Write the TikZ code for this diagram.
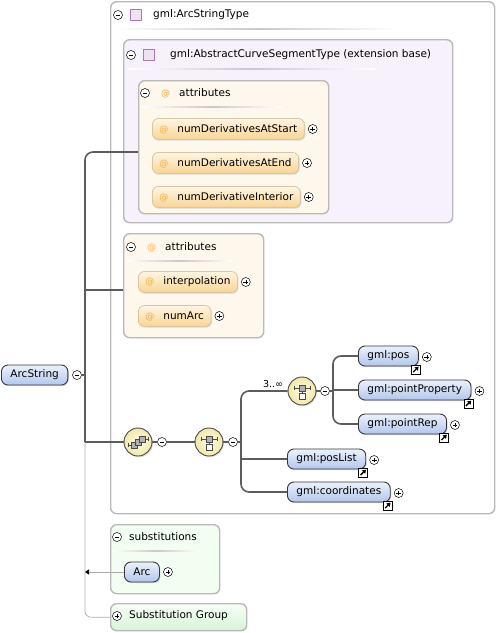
\documentclass[tikz,border=0pt]{standalone}
\usepackage{fontspec}
\setmainfont{DejaVu Sans}
\usetikzlibrary{arrows.meta,shadows}

\definecolor{boxGray}{HTML}{B9B9B9}
\definecolor{lavFill}{HTML}{F6F1FB}
\definecolor{creamFill}{HTML}{FEF8EC}
\definecolor{greenFill}{HTML}{F1FEF1}
\definecolor{greenTop}{HTML}{F7FFF7}
\definecolor{greenBot}{HTML}{D7F4D7}
\definecolor{elemTop}{HTML}{EAF1FC}
\definecolor{elemBot}{HTML}{B3C7EC}
\definecolor{elemLine}{HTML}{383838}
\definecolor{attrTop}{HTML}{FFF5E2}
\definecolor{attrBot}{HTML}{F8D493}
\definecolor{attrLine}{HTML}{D6C6A8}
\definecolor{atOrange}{HTML}{EFAE4A}
\definecolor{iconIn}{HTML}{FFFDE6}
\definecolor{iconOut}{HTML}{F1E8A8}
\definecolor{iconLine}{HTML}{4A4A4A}
\definecolor{tsqFill}{HTML}{EEE2F3}
\definecolor{tsqLine}{HTML}{A47BB4}
\definecolor{connGray}{HTML}{5C5C5C}
\definecolor{subLine}{HTML}{ABABAB}
\definecolor{hdrLine}{HTML}{C8C8C8}

\newcommand{\at}{{\color{atOrange}\fontsize{9}{9}\selectfont @}\hspace{9pt}}

\tikzset{
  grpbox/.style={draw=boxGray, line width=1.4pt, rounded corners=6pt, anchor=north west, inner sep=0pt},
  elem/.style={draw=elemLine, line width=0.9pt, rounded corners=6.5pt, top color=elemTop, bottom color=elemBot,
    minimum height=20pt, inner xsep=9pt, inner ysep=0pt, anchor=west,
    drop shadow={shadow xshift=1pt, shadow yshift=-1.2pt, opacity=0.3}},
  attr/.style={draw=attrLine, line width=0.8pt, rounded corners=6pt, top color=attrTop, bottom color=attrBot,
    minimum height=21pt, inner xsep=7pt, inner ysep=0pt, anchor=west,
    drop shadow={shadow xshift=1pt, shadow yshift=-1.2pt, opacity=0.25}},
  hdr/.style={anchor=west, inner sep=2pt},
  tsq/.style={draw=tsqLine, fill=tsqFill, line width=0.8pt, minimum size=11pt, inner sep=0pt},
  plusb/.style={circle, draw=black, fill=white, line width=0.5pt, minimum size=9pt, inner sep=0pt,
    path picture={\begin{scope}[shift={(path picture bounding box.center)}]
      \draw[line width=0.6pt] (-2.4pt,0pt) -- (2.4pt,0pt) (0pt,-2.4pt) -- (0pt,2.4pt);
    \end{scope}}},
  minusb/.style={circle, draw=black, fill=white, line width=0.5pt, minimum size=9pt, inner sep=0pt,
    path picture={\begin{scope}[shift={(path picture bounding box.center)}]
      \draw[line width=0.6pt] (-2.4pt,0pt) -- (2.4pt,0pt);
    \end{scope}}},
  linkmk/.style={draw=black, fill=white, line width=0.7pt, minimum size=9pt, inner sep=0pt,
    path picture={\begin{scope}[shift={(path picture bounding box.center)}]
      \draw[line width=1.3pt, -{Triangle[length=3.5pt,width=4.5pt]}] (-2.6pt,-2.6pt) -- (2.8pt,2.8pt);
    \end{scope}}},
  icon/.style={circle, draw=iconLine, line width=0.9pt, inner color=iconIn, outer color=iconOut,
    minimum size=28pt, inner sep=0pt, drop shadow={shadow xshift=1pt, shadow yshift=-1.2pt, opacity=0.25}},
  seqicon/.style={icon, path picture={\begin{scope}[shift={(path picture bounding box.center)}, line width=0.5pt]
      \draw[line width=0.8pt] (-10pt,-3pt) -- (-6pt,-3pt) (-10pt,-5pt) -- (-10pt,-1pt)
        (6pt,3pt) -- (10pt,3pt) (10pt,1pt) -- (10pt,5pt);
      \filldraw[fill=gray!60] (-7pt,-6pt) rectangle (-1pt,0pt);
      \filldraw[fill=gray!60] (-3pt,-3pt) rectangle (3pt,3pt);
      \filldraw[fill=gray!60] (1pt,0pt) rectangle (7pt,6pt);
    \end{scope}}},
  choiceicon/.style={icon, path picture={\begin{scope}[shift={(path picture bounding box.center)}, line width=0.5pt]
      \draw[line width=0.8pt] (-8pt,3pt) -- (8pt,3pt) (-8pt,1pt) -- (-8pt,5pt) (8pt,1pt) -- (8pt,5pt)
        (0pt,0pt) -- (0pt,-2pt);
      \filldraw[fill=gray!60] (-3pt,0pt) rectangle (3pt,6pt);
      \filldraw[fill=white] (-3pt,-8pt) rectangle (3pt,-2pt);
    \end{scope}}},
  conn/.style={draw=connGray, line width=1.6pt, rounded corners=8pt},
  sline/.style={draw=subLine, line width=0.7pt},
  uline/.style={left color=white, right color=white, middle color=hdrLine}
}

\begin{document}
\begin{tikzpicture}[x=1pt, y=-1pt, font=\fontsize{10.5}{12}\selectfont]
  \useasboundingbox (0,0) rectangle (496,633);

  % group boxes
  \node[grpbox, fill=white, minimum width=384pt, minimum height=512pt] (typeBox) at (110,1) {};
  \node[grpbox, fill=lavFill, minimum width=329pt, minimum height=183pt] (baseBox) at (123,39) {};
  \node[grpbox, fill=creamFill, minimum width=190pt, minimum height=133pt] (attA) at (138,80) {};
  \node[grpbox, fill=creamFill, minimum width=140pt, minimum height=104pt] (attB) at (123,233) {};
  \node[grpbox, fill=greenFill, minimum width=109pt, minimum height=69pt] (subs) at (110,524) {};
  \node[grpbox, top color=greenTop, bottom color=greenBot, minimum width=136pt, minimum height=27pt] (subG) at (110,603) {};

  % headers
  \node[minusb] (typeM) at (118,15) {};
  \node[tsq] (typeQ) at (136,15) {};
  \node[hdr] (typeH) at (151,15) {gml:ArcStringType};
  \shade[uline] (115,28) rectangle (400,29.5);
  \node[minusb] (baseM) at (131,55) {};
  \node[tsq] (baseQ) at (149,55) {};
  \node[hdr] (baseH) at (168,55) {gml:AbstractCurveSegmentType (extension base)};
  \shade[uline] (128,68) rectangle (375,69.5);
  \node[minusb] (attAM) at (145,93) {};
  \node[hdr] (attAH) at (159,93) {\at attributes};
  \shade[uline] (142,106) rectangle (282,107.5);
  \node[minusb] (attBM) at (131,247) {};
  \node[hdr] (attBH) at (145,247) {\at attributes};
  \shade[uline] (127,260) rectangle (232,261.5);
  \node[minusb] (subsM) at (117,537) {};
  \node[hdr] (subsH) at (127,537) {substitutions};
  \node[plusb] (subGP) at (117,616) {};
  \node[hdr] (subGH) at (127,616) {Substitution Group};
  \shade[uline] (113,550) rectangle (200,551.5);

  % attributes
  \node[attr] (atStart) at (152,129) {\at numDerivativesAtStart};
  \node[attr] (atEnd) at (152,163) {\at numDerivativesAtEnd};
  \node[attr] (atInt) at (152,197) {\at numDerivativeInterior};
  \node[attr] (interp) at (138,282) {\at interpolation};
  \node[attr] (numArc) at (138,316) {\at numArc};
  \node[plusb] (atStartP) at ([xshift=8pt]atStart.east) {};
  \node[plusb] (atEndP) at ([xshift=8pt]atEnd.east) {};
  \node[plusb] (atIntP) at ([xshift=8pt]atInt.east) {};
  \node[plusb] (interpP) at ([xshift=8pt]interp.east) {};
  \node[plusb] (numArcP) at ([xshift=8pt]numArc.east) {};

  % elements
  \node[elem] (arcString) at (1,375) {ArcString};
  \node[minusb] (arcStringM) at (77,375) {};
  \node[seqicon] (seq) at (138,442) {};
  \node[minusb] (seqM) at (162,442) {};
  \node[choiceicon] (chA) at (209,442) {};
  \node[minusb] (chAM) at (233,442) {};
  \node[choiceicon] (chB) at (302,391) {};
  \node[minusb] (chBM) at (325,391) {};
  \node[elem] (pos) at (358,356) {gml:pos};
  \node[elem] (pointProp) at (358,390) {gml:pointProperty};
  \node[elem] (pointRep) at (358,424) {gml:pointRep};
  \node[elem] (posList) at (287,459) {gml:posList};
  \node[elem] (coords) at (287,492) {gml:coordinates};
  \node[elem] (arc) at (124,572) {Arc};
  \node[plusb] (arcP) at ([xshift=8pt]arc.east) {};
  \foreach \e in {pos,pointProp,pointRep,posList,coords}{
    \node[linkmk] (\e L) at ([xshift=-3pt,yshift=-3pt]\e.south east) {};
    \node[plusb] (\e P) at ([xshift=8pt,yshift=-1pt]\e.east) {};
  }

  % connectors
  \coordinate (t1) at (85,152);
  \coordinate (t2) at (85,290);
  \coordinate (t3) at (85,442);
  \coordinate (c1) at (241,391);
  \coordinate (c2) at (241,492);
  \coordinate (d1) at (333,356);
  \coordinate (d2) at (333,424);
  \draw[sline, rounded corners=6pt] (t3) -- (t3 |- subG.west) -- (subG.west);
  \draw[sline, -{Triangle[length=4pt,width=5pt,color=black]}] (arc.west) -- (arc.west -| t3);
  \draw[conn] (arcStringM.east) -- (arcStringM.east -| t1);
  \draw[conn] (t3) -- (t1) -- (t1 -| attA.west);
  \draw[conn] (t2) -- (t2 -| attB.west);
  \draw[conn] (t3) -- (seq.west);
  \draw[conn] (seq.east) -- (seqM.west);
  \draw[conn] (seqM.east) -- (chA.west);
  \draw[conn] (chA.east) -- (chAM.west);
  \draw[conn] (chAM.east) -- (chAM.east -| c1);
  \draw[conn] (chB.west) -- (c1) -- (c2) -- (coords.west);
  \draw[conn] (posList.west -| c1) -- (posList.west);
  \draw[conn] (chB.east) -- (chBM.west);
  \draw[conn] (chBM.east) -- (chBM.east -| d1);
  \draw[conn] (pos.west) -- (d1) -- (d2) -- (pointRep.west);
  \draw[conn] (pointProp.west -| d1) -- (pointProp.west);
  \node[inner sep=1pt, anchor=south, font=\fontsize{9.5}{10}\selectfont] (occ) at (273,389) {3..∞};
\end{tikzpicture}
\end{document}
